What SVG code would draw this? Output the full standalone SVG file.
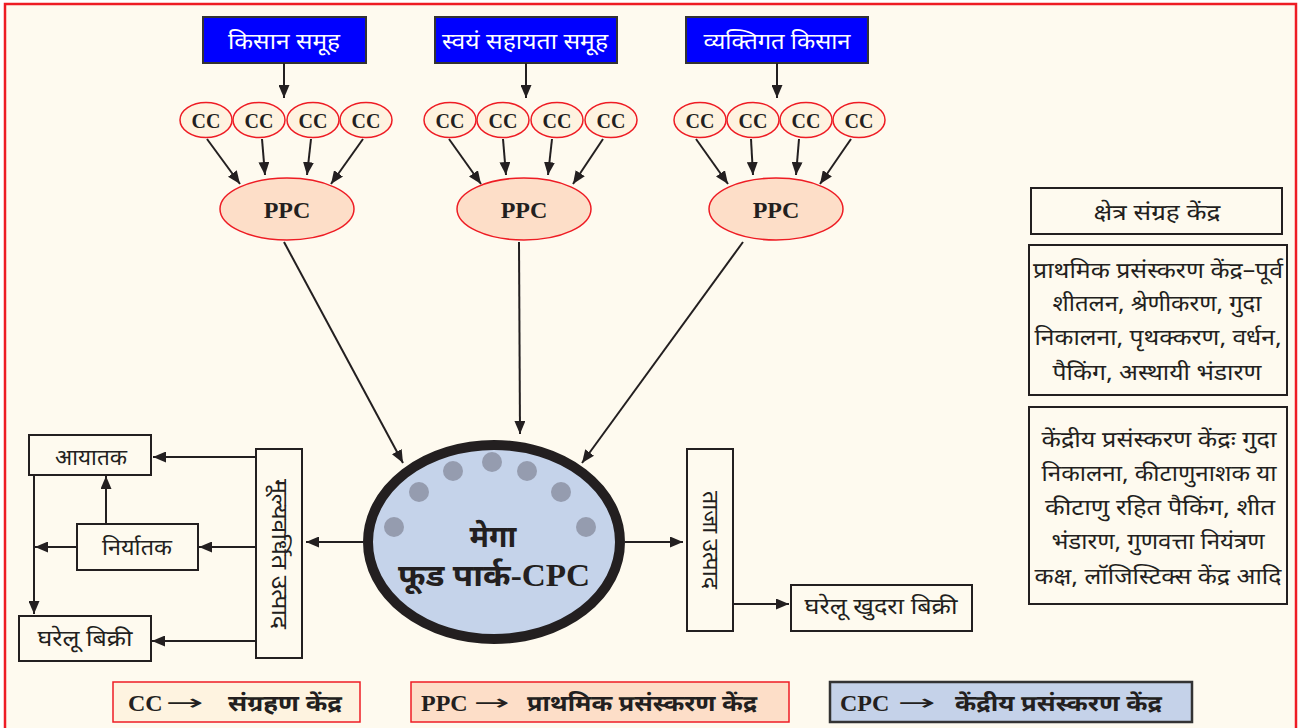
<svg xmlns="http://www.w3.org/2000/svg" width="1307" height="728" viewBox="0 0 1307 728">
<defs>
<marker id="ah" markerUnits="userSpaceOnUse" markerWidth="13" markerHeight="11" refX="13" refY="5.5" orient="auto">
<path d="M0,0 L13,5.5 L0,11 z" fill="#231F20"/>
</marker>
<style>
.dev{font-family:"Noto Sans Devanagari","Noto Sans","Lohit Devanagari",sans-serif;}
.ser{font-family:"Liberation Serif","Noto Sans Devanagari",serif;}
.blue rect{fill:#0000FF;stroke:#333;stroke-width:2;}
.blue text{fill:#fff;font-size:23px;text-anchor:middle;}
.cc ellipse{fill:#FEF3E0;stroke:#EE1C24;stroke-width:1.5;}
.cc text{font-size:20px;font-weight:bold;text-anchor:middle;fill:#231F20;}
.ppc ellipse{fill:#FDDEC8;stroke:#EE1C24;stroke-width:1.5;}
.ppc text{font-size:24px;font-weight:bold;text-anchor:middle;fill:#231F20;}
.box rect{fill:none;stroke:#231F20;stroke-width:2;}
.box text{font-size:22px;text-anchor:middle;fill:#231F20;}
.conn line{stroke:#231F20;stroke-width:2;fill:none;marker-end:url(#ah);}
.leg text{font-size:24px;font-weight:bold;fill:#231F20;}
.leg .arr{font-family:"DejaVu Sans",sans-serif;font-weight:normal;font-size:22px;}
.leg .dv{font-family:"Noto Sans Devanagari","Noto Sans",sans-serif;font-size:22px;}
.dot{fill:#959CAF;}
</style>
</defs>
<rect x="0" y="0" width="1307" height="728" fill="#ffffff"/>
<rect x="5" y="4" width="1291" height="740" fill="#FEFAEF" stroke="#EE1C24" stroke-width="2.5"/>

<g id="src1" class="blue dev"><rect x="203" y="17" width="163" height="46"/><text x="284" y="49" textLength="112" lengthAdjust="spacingAndGlyphs">किसान समूह</text></g>
<g id="src2" class="blue dev"><rect x="435" y="17" width="182" height="46"/><text x="525" y="49" textLength="166" lengthAdjust="spacingAndGlyphs">स्वयं सहायता समूह</text></g>
<g id="src3" class="blue dev"><rect x="686" y="17" width="182" height="46"/><text x="777" y="49" textLength="147" lengthAdjust="spacingAndGlyphs">व्यक्तिगत किसान</text></g>

<g id="cc1" class="cc ser">
<ellipse cx="206" cy="120" rx="26" ry="17.5"/><text x="206" y="128">CC</text>
<ellipse cx="259" cy="120" rx="26" ry="17.5"/><text x="259" y="128">CC</text>
<ellipse cx="313" cy="120" rx="26" ry="17.5"/><text x="313" y="128">CC</text>
<ellipse cx="366" cy="120" rx="26" ry="17.5"/><text x="366" y="128">CC</text>
</g>
<g id="cc2" class="cc ser">
<ellipse cx="450" cy="120" rx="26" ry="17.5"/><text x="450" y="128">CC</text>
<ellipse cx="503" cy="120" rx="26" ry="17.5"/><text x="503" y="128">CC</text>
<ellipse cx="557" cy="120" rx="26" ry="17.5"/><text x="557" y="128">CC</text>
<ellipse cx="611" cy="120" rx="26" ry="17.5"/><text x="611" y="128">CC</text>
</g>
<g id="cc3" class="cc ser">
<ellipse cx="700" cy="120" rx="26" ry="17.5"/><text x="700" y="128">CC</text>
<ellipse cx="753" cy="120" rx="26" ry="17.5"/><text x="753" y="128">CC</text>
<ellipse cx="806" cy="120" rx="26" ry="17.5"/><text x="806" y="128">CC</text>
<ellipse cx="859" cy="120" rx="26" ry="17.5"/><text x="859" y="128">CC</text>
</g>

<g id="ppc1" class="ppc ser"><ellipse cx="287" cy="209" rx="67" ry="31"/><text x="287" y="218">PPC</text></g>
<g id="ppc2" class="ppc ser"><ellipse cx="524" cy="209" rx="67" ry="31"/><text x="524" y="218">PPC</text></g>
<g id="ppc3" class="ppc ser"><ellipse cx="776" cy="209" rx="67" ry="31"/><text x="776" y="218">PPC</text></g>

<g id="cpc">
<ellipse cx="494" cy="542" rx="126" ry="97" fill="#C5D3EA" stroke="#231F20" stroke-width="10"/>
<circle class="dot" cx="394" cy="527" r="10"/>
<circle class="dot" cx="419" cy="492" r="10"/>
<circle class="dot" cx="453" cy="471" r="10"/>
<circle class="dot" cx="492" cy="462" r="10"/>
<circle class="dot" cx="527" cy="471" r="10"/>
<circle class="dot" cx="561" cy="492" r="10"/>
<circle class="dot" cx="586" cy="527" r="10"/>
<text class="ser" x="493" y="547" font-size="30" font-weight="bold" text-anchor="middle" fill="#231F20">मेगा</text>
<text class="ser" x="494" y="586" font-size="31" font-weight="bold" text-anchor="middle" fill="#231F20" textLength="192" lengthAdjust="spacingAndGlyphs">फूड पार्क-CPC</text>
</g>

<g id="valadded" class="box dev"><rect x="256" y="449" width="46" height="209"/><text x="279" y="561" transform="rotate(90 279 554)" textLength="150" lengthAdjust="spacingAndGlyphs">मूल्यवर्धित उत्पाद</text></g>
<g id="importer" class="box dev"><rect x="29" y="435" width="122" height="40"/><text x="91" y="465" textLength="72" lengthAdjust="spacingAndGlyphs">आयातक</text></g>
<g id="exporter" class="box dev"><rect x="77" y="524" width="121" height="46"/><text x="137" y="555" textLength="70" lengthAdjust="spacingAndGlyphs">निर्यातक</text></g>
<g id="domestic" class="box dev"><rect x="19" y="616" width="132" height="45"/><text x="85" y="646" textLength="95" lengthAdjust="spacingAndGlyphs">घरेलू बिक्री</text></g>
<g id="fresh" class="box dev"><rect x="687" y="449" width="46" height="182"/><text x="710" y="547" transform="rotate(90 710 540)" textLength="98" lengthAdjust="spacingAndGlyphs">ताजा उत्पाद</text></g>
<g id="retail" class="box dev"><rect x="791" y="585" width="181" height="46"/><text x="881" y="614" textLength="153" lengthAdjust="spacingAndGlyphs">घरेलू खुदरा बिक्री</text></g>

<g id="info1" class="box dev"><rect x="1031" y="188" width="251" height="46"/><text x="1157" y="220" textLength="127" lengthAdjust="spacingAndGlyphs">क्षेत्र संग्रह केंद्र</text></g>
<g id="info2" class="box dev"><rect x="1029" y="245" width="258" height="150"/>
<text x="1158" y="278" textLength="250" lengthAdjust="spacingAndGlyphs">प्राथमिक प्रसंस्करण केंद्र–पूर्व</text>
<text x="1157" y="311" textLength="209" lengthAdjust="spacingAndGlyphs">शीतलन, श्रेणीकरण, गुदा</text>
<text x="1158" y="345" textLength="247" lengthAdjust="spacingAndGlyphs">निकालना, पृथक्करण, वर्धन,</text>
<text x="1157" y="380" textLength="209" lengthAdjust="spacingAndGlyphs">पैकिंग, अस्थायी भंडारण</text>
</g>
<g id="info3" class="box dev"><rect x="1029" y="407" width="258" height="197"/>
<text x="1159" y="447" textLength="235" lengthAdjust="spacingAndGlyphs">केंद्रीय प्रसंस्करण केंद्रः गुदा</text>
<text x="1159" y="481" textLength="235" lengthAdjust="spacingAndGlyphs">निकालना, कीटाणुनाशक या</text>
<text x="1160" y="515" textLength="230" lengthAdjust="spacingAndGlyphs">कीटाणु रहित पैकिंग, शीत</text>
<text x="1158" y="549" textLength="213" lengthAdjust="spacingAndGlyphs">भंडारण, गुणवत्ता नियंत्रण</text>
<text x="1158" y="584" textLength="247" lengthAdjust="spacingAndGlyphs">कक्ष, लॉजिस्टिक्स केंद्र आदि</text>
</g>

<g id="legend-cc" class="leg ser"><rect x="113" y="682" width="247" height="40" fill="#FEF3E0" stroke="#EE1C24" stroke-width="1.5"/>
<text x="128" y="711">CC</text><text class="arr" x="166" y="710" textLength="38" lengthAdjust="spacingAndGlyphs">→</text><text class="dv" x="228" y="711" textLength="114" lengthAdjust="spacingAndGlyphs">संग्रहण केंद्र</text></g>
<g id="legend-ppc" class="leg ser"><rect x="411" y="682" width="378" height="40" fill="#FDDEC8" stroke="#EE1C24" stroke-width="1.5"/>
<text x="421" y="711">PPC</text><text class="arr" x="474" y="710" textLength="36" lengthAdjust="spacingAndGlyphs">→</text><text class="dv" x="527" y="711" textLength="230" lengthAdjust="spacingAndGlyphs">प्राथमिक प्रसंस्करण केंद्र</text></g>
<g id="legend-cpc" class="leg ser"><rect x="830" y="682" width="362" height="40" fill="#C5D2E9" stroke="#333" stroke-width="2.5"/>
<text x="840" y="711">CPC</text><text class="arr" x="898" y="710" textLength="38" lengthAdjust="spacingAndGlyphs">→</text><text class="dv" x="955" y="711" textLength="207" lengthAdjust="spacingAndGlyphs">केंद्रीय प्रसंस्करण केंद्र</text></g>

<g id="connectors" class="conn">
<line x1="284" y1="63" x2="284" y2="98"/>
<line x1="526" y1="63" x2="526" y2="98"/>
<line x1="777" y1="63" x2="777" y2="98"/>
<line x1="207" y1="139" x2="240" y2="184"/>
<line x1="262" y1="139" x2="265" y2="175"/>
<line x1="311" y1="139" x2="307" y2="175"/>
<line x1="363" y1="139" x2="331" y2="184"/>
<line x1="449" y1="139" x2="481" y2="184"/>
<line x1="503" y1="139" x2="506" y2="175"/>
<line x1="552" y1="139" x2="548" y2="175"/>
<line x1="603" y1="139" x2="573" y2="184"/>
<line x1="696" y1="139" x2="728" y2="184"/>
<line x1="751" y1="139" x2="753" y2="175"/>
<line x1="799" y1="139" x2="796" y2="175"/>
<line x1="851" y1="139" x2="820" y2="184"/>
<line x1="284" y1="242" x2="403" y2="463"/>
<line x1="519" y1="242" x2="520" y2="434"/>
<line x1="743" y1="242" x2="582" y2="463"/>
<line x1="363" y1="542" x2="306" y2="542"/>
<line x1="625" y1="542" x2="683" y2="542"/>
<line x1="733" y1="604" x2="789" y2="604"/>
<line x1="256" y1="457" x2="153" y2="457"/>
<line x1="256" y1="547" x2="199" y2="547"/>
<line x1="256" y1="641" x2="152" y2="641"/>
<line x1="106" y1="524" x2="106" y2="476"/>
<line x1="34" y1="475" x2="34" y2="614"/>
<line x1="77" y1="547" x2="35" y2="547"/>
</g>
</svg>
